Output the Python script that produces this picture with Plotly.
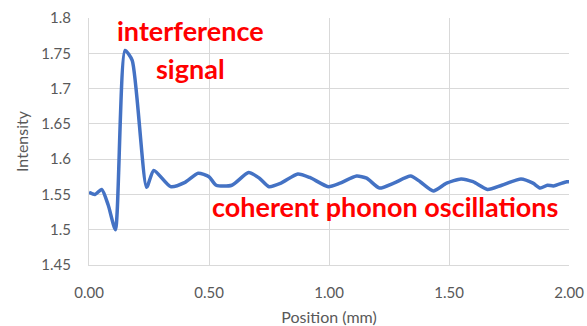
import plotly.graph_objects as go

position = [0.0, 0.025, 0.053, 0.08, 0.11, 0.15, 0.18, 0.24, 0.27, 0.34, 0.40, 0.455, 0.50, 0.53, 0.595,
            0.665, 0.71, 0.75, 0.80, 0.87, 0.92, 0.997, 1.046, 1.115, 1.157, 1.21, 1.27, 1.34, 1.38,
            1.435, 1.49, 1.55, 1.60, 1.66, 1.72, 1.80, 1.85, 1.88, 1.91, 1.935, 1.99, 2.0]
intensity = [1.553, 1.550, 1.557, 1.535, 1.500, 1.754, 1.740, 1.560, 1.584, 1.561, 1.567, 1.580, 1.575, 1.563, 1.563,
             1.581, 1.573, 1.561, 1.566, 1.579, 1.574, 1.561, 1.566, 1.576, 1.573, 1.559, 1.566, 1.576, 1.568,
             1.555, 1.566, 1.572, 1.568, 1.557, 1.563, 1.572, 1.566, 1.559, 1.563, 1.562, 1.568, 1.568]

x_ticks = [0.0, 0.5, 1.0, 1.5, 2.0]
y_ticks = [1.45, 1.5, 1.55, 1.6, 1.65, 1.7, 1.75, 1.8]

fig = go.Figure()
fig.add_trace(go.Scatter(x=position, y=intensity, mode="lines",
                         line=dict(color="#4472C4", width=3.5, shape="spline", smoothing=0.6)))

fig.update_layout(
    width=587, height=326,
    margin=dict(l=89, r=18, t=18, b=61),
    paper_bgcolor="white", plot_bgcolor="white",
    showlegend=False,
    font=dict(family="Lato", color="#595959", size=15),
    xaxis=dict(range=[0, 2], tickvals=x_ticks, tickformat=".2f", showgrid=True, gridcolor="#d9d9d9",
               gridwidth=1, showline=True, linecolor="#d9d9d9", zeroline=False, ticks="",
               ticklabelstandoff=14, automargin=False,
               title=dict(text="Position (mm)", font=dict(size=16, color="#595959"), standoff=11)),
    yaxis=dict(range=[1.45, 1.8], tickvals=y_ticks, showgrid=True, gridcolor="#d9d9d9",
               gridwidth=1, showline=True, linecolor="#d9d9d9", zeroline=False, ticks="",
               ticklabelstandoff=14, automargin=False,
               title=dict(text="Intensity", font=dict(size=16, color="#595959"), standoff=8)),
)

fig.add_annotation(x=0.423, y=1.7816, xref="x", yref="y", text="<b>interference</b>", showarrow=False,
                   font=dict(family="Lato", size=27, color="#ff0000"))
fig.add_annotation(x=0.421, y=1.729, xref="x", yref="y", text="<b>signal</b>", showarrow=False,
                   font=dict(family="Lato", size=27, color="#ff0000"))
fig.add_annotation(x=1.233, y=1.5336, xref="x", yref="y", text="<b>coherent phonon oscillations</b>", showarrow=False,
                   font=dict(family="Lato", size=27, color="#ff0000"))

fig.write_html("out.html")
